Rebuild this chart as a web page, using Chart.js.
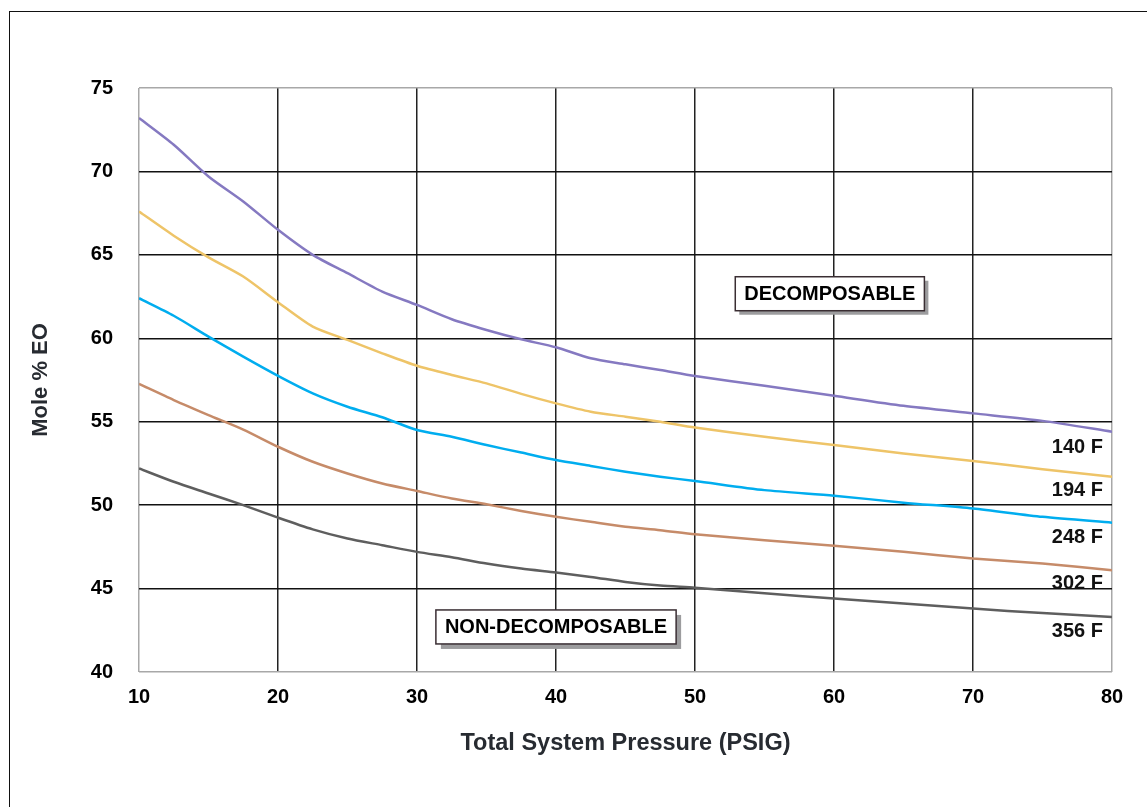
<!DOCTYPE html>
<html>
<head>
<meta charset="utf-8">
<script src="https://cdn.jsdelivr.net/npm/chart.js@4.4.1/dist/chart.umd.min.js"></script>
<style>
  html, body { margin: 0; padding: 0; background: #fff; }
  #wrap { position: relative; width: 1147px; height: 807px; overflow: hidden; }
  #frame { position: absolute; left: 9px; top: 11px; width: 1200px; height: 900px; border-left: 1.5px solid #111; border-top: 1.5px solid #111; pointer-events: none; }
  canvas { position: absolute; left: 0; top: 0; }
</style>
</head>
<body>
<div id="wrap">
  <canvas id="c" width="1147" height="807"></canvas>
  <div id="frame"></div>
</div>
<script>
// ---- Data ----
const pressure = [10, 12.5, 15, 17.5, 20, 22.5, 25, 27.5, 30, 32.5, 35, 37.5, 40, 42.5, 45, 47.5, 50, 55, 60, 65, 70, 75, 80];
const seriesNames = ['140 F', '194 F', '248 F', '302 F', '356 F'];
const eo140 = [73.2, 71.6, 69.7, 68.2, 66.5, 65.0, 63.9, 62.8, 62.0, 61.14, 60.5, 59.94, 59.46, 58.8, 58.44, 58.1, 57.74, 57.15, 56.55, 55.95, 55.5, 55.05, 54.4];
const eo194 = [67.6, 66.15, 64.85, 63.7, 62.16, 60.7, 59.9, 59.1, 58.35, 57.8, 57.3, 56.67, 56.1, 55.6, 55.3, 55.0, 54.65, 54.1, 53.6, 53.1, 52.65, 52.15, 51.7];
const eo248 = [62.4, 61.35, 60.1, 58.9, 57.75, 56.7, 55.9, 55.27, 54.5, 54.1, 53.6, 53.15, 52.7, 52.35, 52.0, 51.7, 51.45, 50.9, 50.57, 50.15, 49.8, 49.3, 48.95];
const eo302 = [57.27, 56.3, 55.4, 54.53, 53.5, 52.6, 51.9, 51.3, 50.85, 50.4, 50.05, 49.65, 49.3, 49.0, 48.7, 48.5, 48.25, 47.9, 47.56, 47.2, 46.8, 46.5, 46.1];
const eo356 = [52.2, 51.4, 50.7, 50.0, 49.25, 48.55, 48.0, 47.6, 47.2, 46.88, 46.5, 46.2, 45.96, 45.7, 45.4, 45.18, 45.05, 44.72, 44.4, 44.1, 43.8, 43.53, 43.3];
const seriesColors = ['#8579C1', '#EEC468', '#00ADEF', '#C68B69', '#5E5E5E'];
const xTicks = [10, 20, 30, 40, 50, 60, 70, 80];
const yTicks = [40, 45, 50, 55, 60, 65, 70, 75];
// curve label anchor (y value at the right edge)
const labelY = [53.47, 50.9, 48.06, 45.3, 42.42];
// region annotations: text, centre x (psig), centre y (mole %)
const regionText = ['DECOMPOSABLE', 'NON-DECOMPOSABLE'];
const regionX = [59.7, 40.0];
const regionY = [62.67, 42.7];

const allSeries = [eo140, eo194, eo248, eo302, eo356];
const datasets = allSeries.map((s, i) => ({
  label: seriesNames[i],
  data: s.map((v, j) => ({ x: pressure[j], y: v })),
  borderColor: seriesColors[i],
  borderWidth: 2.5,
  pointRadius: 0,
  tension: 0.25,
  fill: false
}));

const FONT = "'Liberation Sans', Arial, sans-serif";

const overlay = {
  id: 'overlay',
  afterDatasetsDraw(chart) {
    const ctx = chart.ctx;
    const xs = chart.scales.x, ys = chart.scales.y;
    ctx.save();
    // curve labels
    ctx.font = 'bold 20px ' + FONT;
    ctx.fillStyle = '#111';
    ctx.textAlign = 'right';
    ctx.textBaseline = 'middle';
    seriesNames.forEach((n, i) => {
      ctx.fillText(n, xs.getPixelForValue(80) - 9, ys.getPixelForValue(labelY[i]));
    });
    // region boxes
    ctx.textAlign = 'center';
    regionText.forEach((t, i) => {
      const cx = xs.getPixelForValue(regionX[i]);
      const cy = ys.getPixelForValue(regionY[i]);
      const w = ctx.measureText(t).width + 18;
      const h = 34;
      const off = i === 0 ? 4 : 5;
      ctx.fillStyle = '#9c9c9e';
      ctx.fillRect(cx - w / 2 + off, cy - h / 2 + off, w, h);
      ctx.fillStyle = '#fff';
      ctx.fillRect(cx - w / 2, cy - h / 2, w, h);
      ctx.lineWidth = 1.5;
      ctx.strokeStyle = '#3a2e33';
      ctx.strokeRect(cx - w / 2, cy - h / 2, w, h);
      ctx.fillStyle = '#000';
      ctx.fillText(t, cx, cy + 1);
    });
    ctx.restore();
  }
};

new Chart(document.getElementById('c'), {
  type: 'line',
  data: { datasets },
  plugins: [overlay],
  options: {
    responsive: false,
    animation: false,
    layout: { padding: { left: 0, top: 88, right: 35, bottom: 0 } },
    plugins: { legend: { display: false }, tooltip: { enabled: false } },
    scales: {
      x: {
        type: 'linear',
        min: 10, max: 80,
        afterBuildTicks: s => { s.ticks = xTicks.map(v => ({ value: v })); },
        afterFit: s => { s.height = 135; },
        grid: {
          drawTicks: false,
          lineWidth: 1.5,
          color: c => (c.tick && (c.tick.value === 10 || c.tick.value === 80)) ? '#a8a8a8' : '#222'
        },
        border: { display: false },
        ticks: { color: '#000', padding: 13, font: { family: FONT, size: 20, weight: 'bold' } },
        title: {
          display: true,
          text: 'Total System Pressure (PSIG)',
          color: '#272b31',
          font: { family: FONT, size: 23.5, weight: 'bold' },
          padding: { top: 0, bottom: 49 }
        }
      },
      y: {
        min: 40, max: 75,
        afterBuildTicks: s => { s.ticks = yTicks.map(v => ({ value: v })); },
        afterFit: s => { s.width = 139; },
        grid: {
          drawTicks: false,
          lineWidth: 1.5,
          color: c => (c.tick && (c.tick.value === 40 || c.tick.value === 75)) ? '#a8a8a8' : '#111'
        },
        border: { display: false },
        ticks: { color: '#000', padding: 26, font: { family: FONT, size: 20, weight: 'bold' } },
        title: {
          display: true,
          text: 'Mole % EO',
          color: '#272b31',
          font: { family: FONT, size: 22, weight: 'bold' },
          padding: { top: 28, bottom: 0 }
        }
      }
    }
  }
});
</script>
</body>
</html>
